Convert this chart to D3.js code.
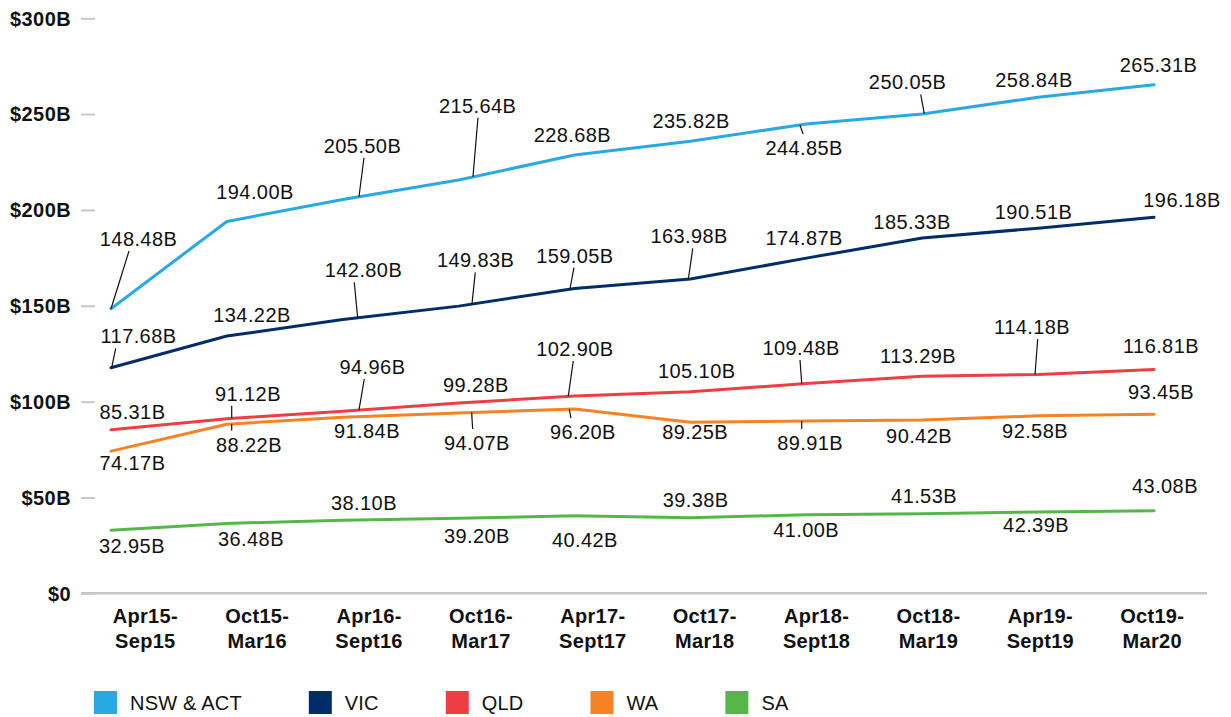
<!DOCTYPE html>
<html>
<head>
<meta charset="utf-8">
<script src="https://cdn.jsdelivr.net/npm/d3@7/dist/d3.min.js"></script>
<style>
  html, body { margin: 0; padding: 0; background: #ffffff; }
  svg { display: block; }
  text { font-family: "Liberation Sans", Arial, Helvetica, sans-serif; }
</style>
</head>
<body>
<div id="chart"></div>
<script>
// Reporting periods (x axis categories)
const categories = [
  "Apr15-Sep15", "Oct15-Mar16", "Apr16-Sept16", "Oct16-Mar17", "Apr17-Sept17",
  "Oct17-Mar18", "Apr18-Sept18", "Oct18-Mar19", "Apr19-Sept19", "Oct19-Mar20"
];

// Values in $ billions per state
const nswAct = [148.48, 194.00, 205.50, 215.64, 228.68, 235.82, 244.85, 250.05, 258.84, 265.31];
const vic    = [117.68, 134.22, 142.80, 149.83, 159.05, 163.98, 174.87, 185.33, 190.51, 196.18];
const qld    = [85.31, 91.12, 94.96, 99.28, 102.90, 105.10, 109.48, 113.29, 114.18, 116.81];
const wa     = [74.17, 88.22, 91.84, 94.07, 96.20, 89.25, 89.91, 90.42, 92.58, 93.45];
const sa     = [32.95, 36.48, 38.10, 39.20, 40.42, 39.38, 41.00, 41.53, 42.39, 43.08];

const seriesNames = ["NSW & ACT", "VIC", "QLD", "WA", "SA"];
const yTicks = [0, 50, 100, 150, 200, 250, 300];

// Styling
const seriesColors = ["#29a9e1", "#002d69", "#ee3e44", "#f58223", "#56b749"];

// Value label placement: [dx, dy] of label centre/baseline from its point
const labelOffsets = [
  [[27.5,-62.7],[28.1,-22.2],[19.7,-46.7],[19,-67.3],[-2.1,-13.3],[0.6,-13.6],[-2.3,31],[-14.7,-24.7],[-4.1,-10.5],[4.5,-12.5]],
  [[27.5,-24.4],[25.1,-14.3],[20.7,-42.3],[17,-38.8],[0.4,-25.8],[-1.4,-35.7],[-2.3,-13.1],[-10.2,-8.8],[-4.6,-8.9],[28,-10.6]],
  [[21.5,-10.5],[21.1,-18],[29.7,-37.3],[17.3,-11.3],[0.4,-40.1],[6.3,-13.6],[-5.3,-28.5],[-4.2,-13.5],[-6.1,-40.5],[7,-16.7]],
  [[21.5,18.9],[22.1,27.5],[24.2,21],[18.3,37],[8.4,30.1],[4.6,16.8],[3.7,29],[-3.2,22.7],[-3.1,22.4],[7,-14.9]],
  [[21,23.2],[24.1,22.6],[21.2,-10.3],[18.3,24.5],[10.4,30.9],[5.1,-11.1],[-0.3,22],[1.8,-10.4],[-2.1,19.6],[11,-17.4]]
];
// Leader lines: index -> [start dx from label centre, end dx from start]
const leaders = [
  {0: [-9.5, -18], 2: [1.5, -5], 3: [0.3, -5], 6: [-1, -3], 7: [13.2, 3.6]},
  {0: [-22.8, -4], 2: [-9.2, 3.4], 3: [-0.4, -3.3], 4: [-1, -4], 5: [3.7, -4.4]},
  {1: [-16.3, 0], 2: [-8.2, -5.3], 4: [-1.7, -5], 6: [-1, 1.7], 8: [5.7, -2.7]},
  {1: [-17.3, 0], 3: [-4.3, -1], 4: [-12, -1.7], 6: [-8.3, 0]},
  {}
];

const width = 1231, height = 717;
const seriesValues = [nswAct, vic, qld, wa, sa];

const svg = d3.select("#chart").append("svg")
  .attr("width", width).attr("height", height);

const y = d3.scaleLinear().domain([0, 300]).range([593.3, 18.3]);
const x = d3.scalePoint().domain(categories).range([111, 1154]);
const xTickScale = d3.scalePoint().domain(categories).range([144.8, 1151.7]);

// Y axis
const yAxis = svg.append("g")
  .attr("transform", "translate(95,0)")
  .call(d3.axisLeft(y).tickValues(yTicks).tickSize(14).tickPadding(10)
    .tickFormat(d => d === 0 ? "$0" : `$${d}B`));
yAxis.select(".domain").remove();
yAxis.selectAll(".tick line").attr("stroke", "#c8c8c8").attr("stroke-width", 2);
yAxis.selectAll(".tick text")
  .attr("fill", "#111")
  .attr("dy", "0.34em")
  .style("font-size", "20px")
  .style("font-weight", "bold")
  .style("letter-spacing", "0.4px");

// Baseline
svg.append("line")
  .attr("x1", 81).attr("x2", 1207)
  .attr("y1", y(0)).attr("y2", y(0))
  .attr("stroke", "#c6c6c6").attr("stroke-width", 2.5);

// X axis labels (two lines, split after the hyphen)
const xAxis = svg.append("g")
  .attr("transform", `translate(0,${y(0)})`)
  .call(d3.axisBottom(xTickScale).tickSize(0).tickFormat(""));
xAxis.select(".domain").remove();
xAxis.selectAll(".tick").each(function(d) {
  const cut = d.indexOf("-") + 1;
  const t = d3.select(this).select("text")
    .attr("y", 0).attr("dy", null)
    .attr("fill", "#111")
    .style("font-size", "20px")
    .style("font-weight", "bold")
    .style("letter-spacing", "0.3px");
  t.text(null);
  t.append("tspan").attr("x", 0).attr("y", 30).text(d.slice(0, cut));
  t.append("tspan").attr("x", 0).attr("y", 54.4).text(d.slice(cut));
});

// Lines
const line = d3.line()
  .x((d, i) => x(categories[i]))
  .y(d => y(d));

svg.append("g").selectAll("path")
  .data(seriesValues)
  .join("path")
  .attr("d", d => line(d))
  .attr("fill", "none")
  .attr("stroke", (d, i) => seriesColors[i])
  .attr("stroke-width", 3)
  .attr("stroke-linejoin", "round")
  .attr("stroke-linecap", "round");

// y position on a series line at a given x pixel
function lineYAt(values, px) {
  const xs = categories.map(c => x(c));
  if (px <= xs[0]) return y(values[0]);
  for (let i = 0; i < xs.length - 1; i++) {
    if (px >= xs[i] && px <= xs[i + 1]) {
      const t = (px - xs[i]) / (xs[i + 1] - xs[i]);
      return y(values[i]) + t * (y(values[i + 1]) - y(values[i]));
    }
  }
  return y(values[values.length - 1]);
}

// Value labels and leader lines
const fmt = d3.format(".2f");
const labelLayer = svg.append("g");
seriesValues.forEach((values, s) => {
  values.forEach((v, i) => {
    const px = x(categories[i]), py = y(v);
    const [dx, dy] = labelOffsets[s][i];
    const lx = px + dx, ly = py + dy;
    labelLayer.append("text")
      .attr("x", lx).attr("y", ly)
      .attr("text-anchor", "middle")
      .attr("fill", "#111")
      .style("font-size", "20px")
      .style("letter-spacing", "0.4px")
      .text(fmt(v) + "B");
    const ld = leaders[s][i];
    if (ld) {
      const sx = lx + ld[0];
      const sy = dy < 0 ? ly + 5 : ly - 21;
      const ex = sx + ld[1];
      const ey = lineYAt(values, ex);
      labelLayer.append("line")
        .attr("x1", sx).attr("y1", sy)
        .attr("x2", ex).attr("y2", ey)
        .attr("stroke", "#111").attr("stroke-width", 1.2);
    }
  });
});

// Legend
const legend = svg.append("g");
let lxPos = 94;
seriesNames.forEach((name, i) => {
  legend.append("rect")
    .attr("x", lxPos).attr("y", 691)
    .attr("width", 23).attr("height", 23)
    .attr("fill", seriesColors[i]);
  const t = legend.append("text")
    .attr("x", lxPos + 36).attr("y", 710)
    .attr("fill", "#111")
    .style("font-size", "20px")
    .style("letter-spacing", "0.2px")
    .text(name);
  lxPos += 36 + t.node().getComputedTextLength() + 67;
});
</script>
</body>
</html>
